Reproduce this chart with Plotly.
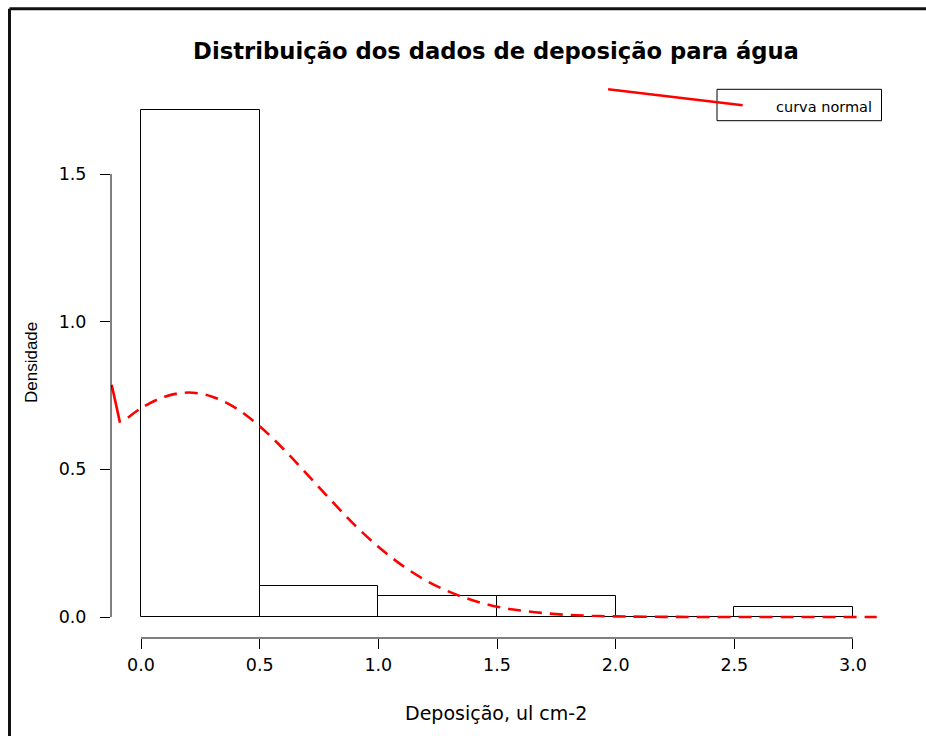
import plotly.graph_objects as go

# ---- data ----
bin_edges = [0.0, 0.5, 1.0, 1.5, 2.0, 2.5, 3.0]
density = [1.718, 0.105, 0.070, 0.070, 0.0, 0.035]

curve_x = [-0.055, 0.0, 0.1, 0.2, 0.3, 0.4, 0.5, 0.6, 0.7, 0.8, 0.9, 1.0, 1.1, 1.2,
           1.3, 1.4, 1.5, 1.6, 1.7, 1.8, 1.9, 2.0, 2.2, 2.4, 2.7, 3.1]
curve_y = [0.675, 0.707, 0.746, 0.760, 0.746, 0.707, 0.646, 0.569, 0.483, 0.396,
           0.312, 0.238, 0.175, 0.124, 0.085, 0.056, 0.035, 0.022, 0.013, 0.007,
           0.004, 0.002, 0.0005, 0.0001, 0.0, 0.0]

# stray solid red segments present in the original figure
left_seg_x = [-0.1235, -0.0885]
left_seg_y = [0.786, 0.658]
top_seg_x = [1.968, 2.535]
top_seg_y = [1.787, 1.733]

x_ticks = [0.0, 0.5, 1.0, 1.5, 2.0, 2.5, 3.0]
y_ticks = [0.0, 0.5, 1.0, 1.5]

title_text = "Distribuição dos dados de deposição para água"
x_title = "Deposição, ul cm-2"
y_title = "Densidade"
legend_text = "curva normal"

# ---- figure ----
centers = [(a + b) / 2 for a, b in zip(bin_edges[:-1], bin_edges[1:])]
widths = [b - a for a, b in zip(bin_edges[:-1], bin_edges[1:])]

WIDE = "DejaVu Sans, Verdana, sans-serif"
NARROW = "Liberation Sans, Arial, sans-serif"

fig = go.Figure()
fig.add_trace(go.Bar(x=centers, y=density, width=widths,
                     marker=dict(color="rgba(255,255,255,0)",
                                 line=dict(color="black", width=1)),
                     showlegend=False, hoverinfo="skip"))
fig.add_trace(go.Scatter(x=curve_x, y=curve_y, mode="lines",
                         line=dict(color="red", width=2.6, dash="13px,8px", shape="spline"),
                         showlegend=False, hoverinfo="skip"))
fig.add_trace(go.Scatter(x=left_seg_x, y=left_seg_y, mode="lines",
                         line=dict(color="red", width=2.6),
                         showlegend=False, hoverinfo="skip"))
fig.add_trace(go.Scatter(x=top_seg_x, y=top_seg_y, mode="lines",
                         line=dict(color="red", width=2.6),
                         showlegend=False, hoverinfo="skip", cliponaxis=False))

L, T = 111, 71
PW, PH = 770, 567
W, H = 926, 736


def px(xpix):
    return (xpix - L) / PW


def py(ypix):
    return (T + PH - ypix) / PH


shapes = [
    # axis lines spanning the tick range only (R style)
    dict(type="line", xref="x", yref="paper", x0=x_ticks[0], x1=x_ticks[-1], y0=0, y1=0,
         line=dict(color="black", width=1)),
    dict(type="line", xref="paper", yref="y", x0=0, x1=0, y0=y_ticks[0], y1=y_ticks[-1],
         line=dict(color="black", width=1)),
    # legend box
    dict(type="rect", xref="paper", yref="paper", x0=px(717), x1=px(881.5),
         y0=py(120.7), y1=py(89.3), line=dict(color="black", width=1), layer="below"),
    # outer frame (top and left visible)
    dict(type="line", xref="paper", yref="paper", x0=px(9.5), x1=px(W + 5),
         y0=py(8.8), y1=py(8.8), line=dict(color="#111", width=3)),
    dict(type="line", xref="paper", yref="paper", x0=px(9.5), x1=px(9.5),
         y0=py(8.8), y1=py(H + 5), line=dict(color="#111", width=3)),
]

annotations = [
    dict(text=x_title, xref="paper", yref="paper", x=0.5, y=py(713),
         xanchor="center", yanchor="middle", showarrow=False,
         font=dict(family=WIDE, size=19, color="black")),
    dict(text=y_title, xref="paper", yref="paper", x=px(31), y=py(363),
         xanchor="center", yanchor="middle", showarrow=False, textangle=-90,
         font=dict(family=NARROW, size=17, color="black")),
    dict(text=legend_text, xref="paper", yref="paper", x=px(823.5), y=py(107),
         xanchor="center", yanchor="middle", showarrow=False,
         font=dict(family=WIDE, size=14.5, color="black")),
]

fig.update_layout(
    width=W, height=H,
    margin=dict(l=L, r=W - L - PW, t=T, b=H - T - PH, pad=0),
    paper_bgcolor="white", plot_bgcolor="white",
    title=dict(text="<b>" + title_text + "</b>", x=0.5, xref="paper",
               y=1 - 51 / H, yref="container", xanchor="center", yanchor="middle",
               font=dict(family=WIDE, size=22.7, color="black")),
    xaxis=dict(range=[(L - 141) / 237.33, (L + PW - 141) / 237.33],
               tickvals=x_ticks, ticktext=[f"{v:.1f}" for v in x_ticks],
               ticks="outside", ticklen=10, tickwidth=1, tickcolor="black",
               ticklabelstandoff=1,
               showline=False, showgrid=False, zeroline=False,
               tickfont=dict(family=WIDE, size=17.5, color="black")),
    yaxis=dict(range=[(617 - (T + PH)) / 295.3, (617 - T) / 295.3],
               tickvals=y_ticks, ticktext=[f"{v:.1f}" for v in y_ticks],
               ticks="outside", ticklen=10, tickwidth=1, tickcolor="black",
               ticklabelstandoff=10,
               showline=False, showgrid=False, zeroline=False,
               tickfont=dict(family=WIDE, size=17.5, color="black")),
    shapes=shapes, annotations=annotations,
    bargap=0,
)

fig.write_html("out.html")
